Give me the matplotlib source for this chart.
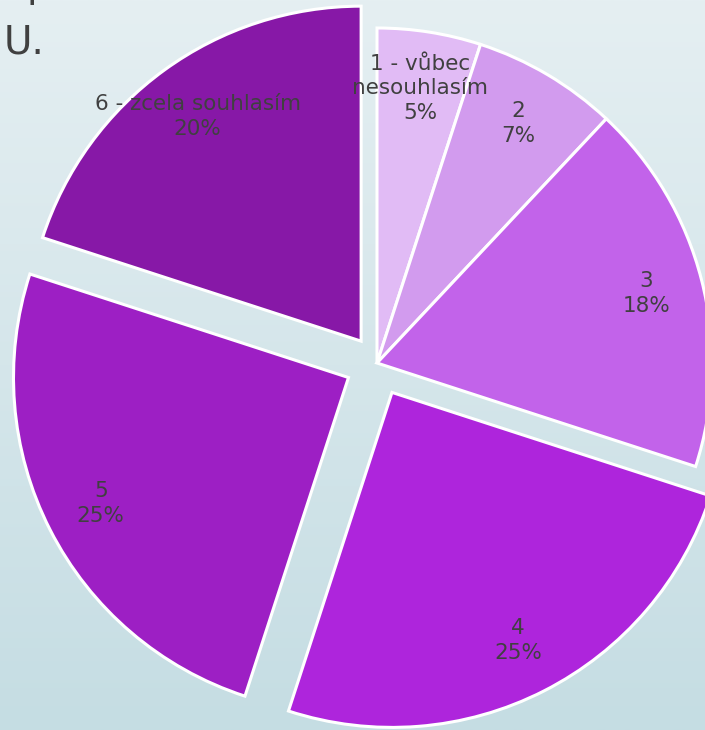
import numpy as np
import matplotlib
matplotlib.use("Agg")
import matplotlib.pyplot as plt
from matplotlib.colors import LinearSegmentedColormap

# answers on a 1-6 agreement scale
categories = ["1 - vůbec\nnesouhlasím", "2", "3", "4", "5", "6 - zcela souhlasím"]
values = [5, 7, 18, 25, 25, 20]
colors = ["#e1bbf5", "#d29bee", "#c263ea", "#ae25dc", "#9d1fc4", "#8718a7"]
explode = [0, 0, 0, 33, 32, 27]   # pie offsets in pixel units

W, H = 705, 730
fig = plt.figure(figsize=(W / 100, H / 100), dpi=100)
ax = fig.add_axes([0, 0, 1, 1])

# slide background, light at the top, bluish grey at the bottom
bg = LinearSegmentedColormap.from_list("bg", ["#c5dde3", "#e5eff2"])
grad = np.linspace(0, 1, 256).reshape(-1, 1)
ax.imshow(grad, cmap=bg, extent=(0, W, 0, H), origin="lower", aspect="auto", zorder=0)

total = sum(values)
labels = [f"{c}\n{round(100 * v / total)}%" for c, v in zip(categories, values)]

wedges, texts = ax.pie(
    values,
    labels=labels,
    colors=colors,
    explode=explode,
    startangle=90,
    counterclock=False,
    center=(377, H - 363),
    radius=335,
    labeldistance=0.83,
    wedgeprops=dict(edgecolor="white", linewidth=2.2),
    textprops=dict(fontsize=15.5, color="#404040", linespacing=1.3),
    frame=True,
)
for t in texts:
    t.set_horizontalalignment("center")
    t.set_verticalalignment("center")
for w in wedges:
    w.set_zorder(2)

ax.set_xlim(0, W)
ax.set_ylim(0, H)
ax.set_aspect("equal")
ax.axis("off")

# remains of the slide title, cut off at the top-left
ax.text(4, H - 53, "U.", fontsize=28, color="#404040", ha="left", va="baseline", zorder=5)
ax.text(27, H + 3, "p", fontsize=28, color="#404040", ha="left", va="baseline", zorder=5)

fig.savefig("out.png", dpi=100)
